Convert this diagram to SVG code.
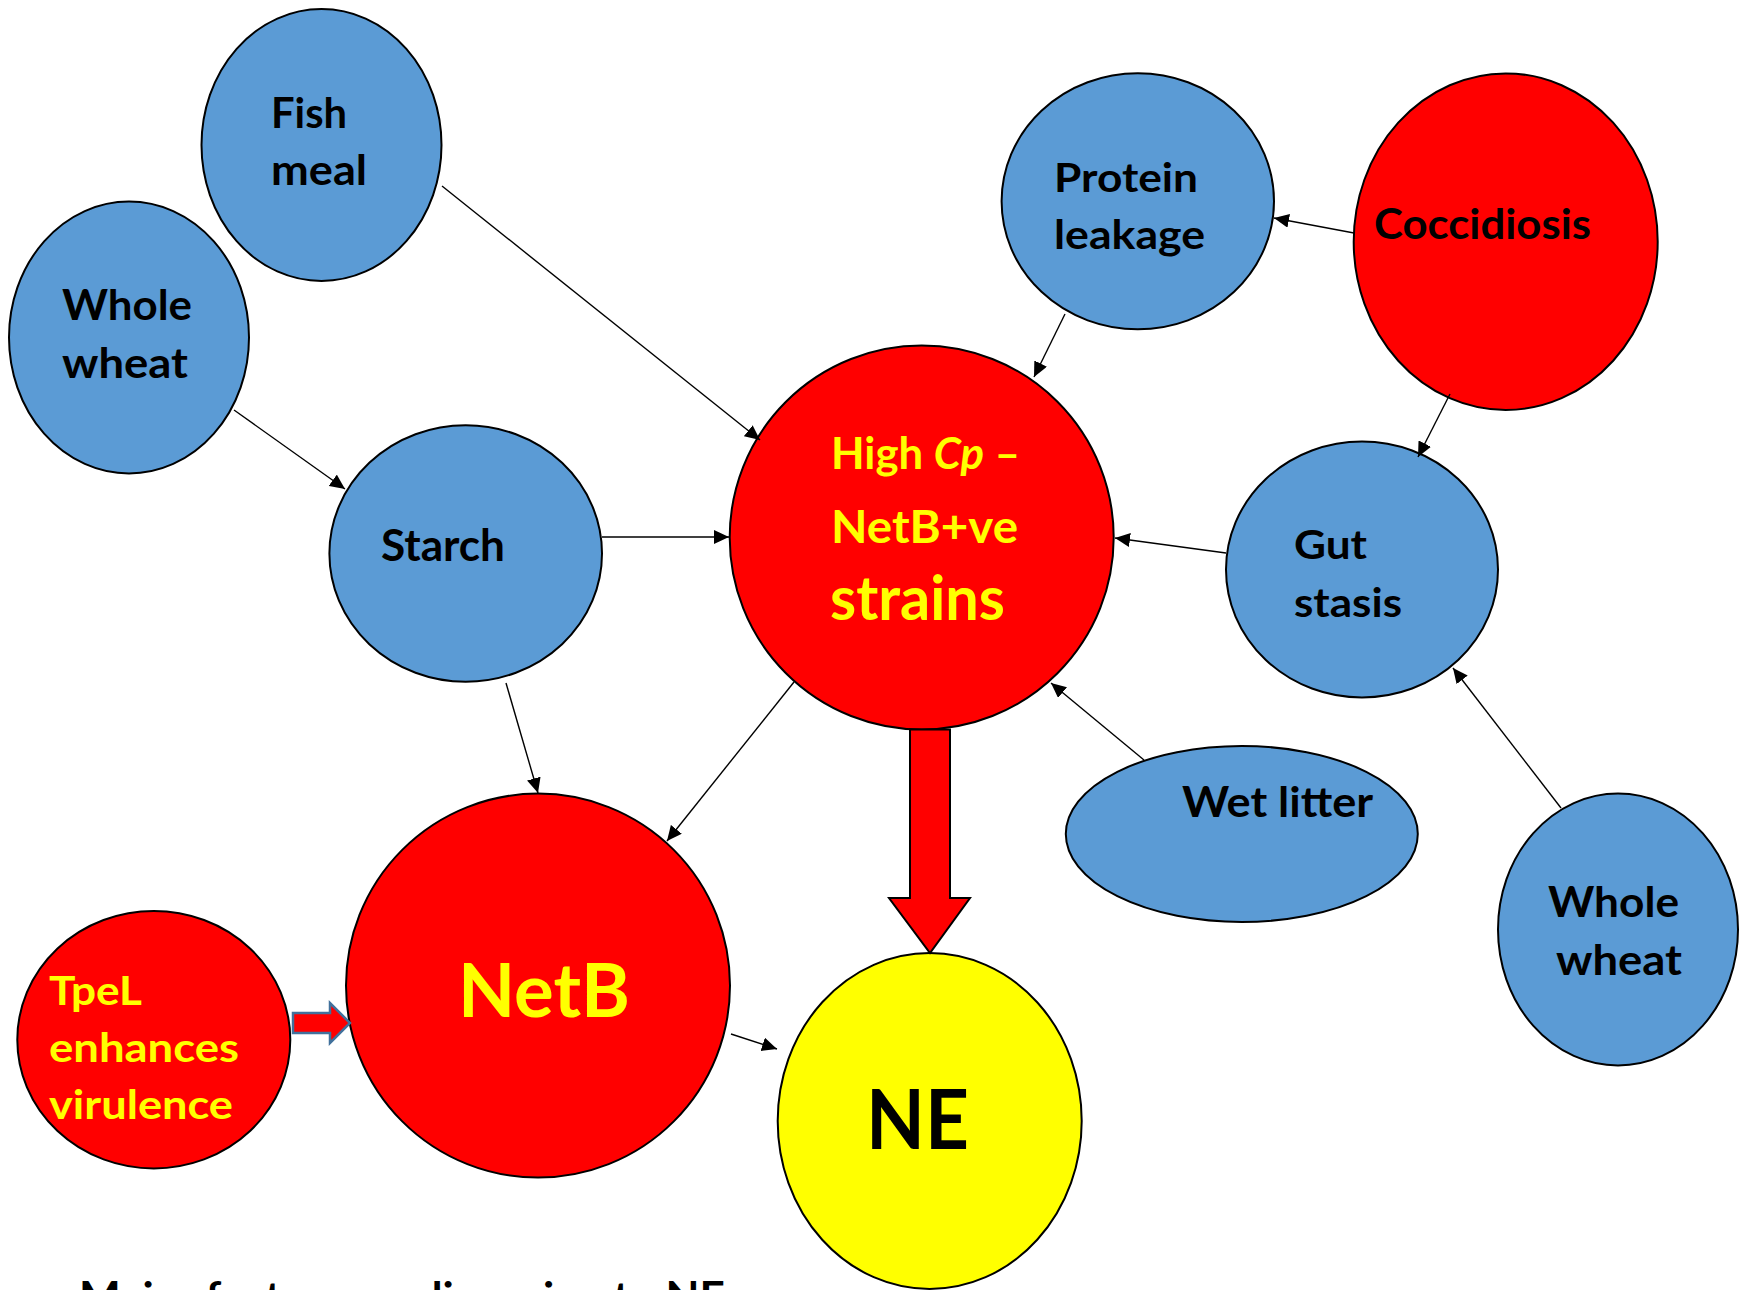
<svg xmlns="http://www.w3.org/2000/svg" width="1744" height="1290" viewBox="0 0 1744 1290">
<defs>
<style>
.blue{fill:#5B9BD5;stroke:#000;stroke-width:2}
.red{fill:#FF0000;stroke:#000;stroke-width:2}
.yel{fill:#FFFF00;stroke:#000;stroke-width:2}
.t{font-family:Lato,"Liberation Sans",sans-serif;font-weight:bold;fill:#000}
.ty{font-family:Lato,"Liberation Sans",sans-serif;font-weight:bold;fill:#FFFF00}
.c line{stroke:#000;stroke-width:1.4;marker-end:url(#ah)}
</style>
<marker id="ah" viewBox="0 0 15 14" refX="15" refY="7" markerWidth="15" markerHeight="14" markerUnits="userSpaceOnUse" orient="auto">
<path d="M0,0 L15,7 L0,14 Z" fill="#000"/>
</marker>
</defs>
<rect width="1744" height="1290" fill="#fff"/>

<g id="fish-meal">
<ellipse class="blue" cx="321.5" cy="145" rx="120" ry="136"/>
<text class="t" x="271" y="128" font-size="42" textLength="76" lengthAdjust="spacingAndGlyphs">Fish</text>
<text class="t" x="271" y="185" font-size="42" textLength="96" lengthAdjust="spacingAndGlyphs">meal</text>
</g>

<g id="whole-wheat-left">
<ellipse class="blue" cx="129" cy="337.5" rx="120" ry="136"/>
<text class="t" x="62" y="320" font-size="42" textLength="130" lengthAdjust="spacingAndGlyphs">Whole</text>
<text class="t" x="62" y="378" font-size="42" textLength="126" lengthAdjust="spacingAndGlyphs">wheat</text>
</g>

<g id="starch">
<ellipse class="blue" cx="465.7" cy="553.5" rx="136.3" ry="128.2"/>
<text class="t" x="381" y="561" font-size="43" textLength="124" lengthAdjust="spacingAndGlyphs">Starch</text>
</g>

<g id="high-cp">
<circle class="red" cx="921.7" cy="537.5" r="192"/>
<text class="ty" x="831" y="469" font-size="43" textLength="189" lengthAdjust="spacingAndGlyphs">High <tspan font-style="italic">Cp</tspan> –</text>
<text class="ty" x="831" y="543" font-size="46" textLength="187" lengthAdjust="spacingAndGlyphs">NetB+ve</text>
<text class="ty" x="830" y="620" font-size="61" textLength="175" lengthAdjust="spacingAndGlyphs">strains</text>
</g>

<g id="protein-leakage">
<ellipse class="blue" cx="1137.8" cy="201.3" rx="136.2" ry="128"/>
<text class="t" x="1054" y="192" font-size="41" textLength="144" lengthAdjust="spacingAndGlyphs">Protein</text>
<text class="t" x="1054" y="249" font-size="41" textLength="151" lengthAdjust="spacingAndGlyphs">leakage</text>
</g>

<g id="coccidiosis">
<ellipse class="red" cx="1505.7" cy="241.7" rx="152" ry="168.3"/>
<text class="t" x="1374" y="239" font-size="42" textLength="217" lengthAdjust="spacingAndGlyphs">Coccidiosis</text>
</g>

<g id="gut-stasis">
<ellipse class="blue" cx="1362" cy="569.5" rx="136" ry="128"/>
<text class="t" x="1294" y="559" font-size="41" textLength="73" lengthAdjust="spacingAndGlyphs">Gut</text>
<text class="t" x="1294" y="617" font-size="41" textLength="108" lengthAdjust="spacingAndGlyphs">stasis</text>
</g>

<g id="wet-litter">
<ellipse class="blue" cx="1241.8" cy="834" rx="176" ry="88"/>
<text class="t" x="1182" y="817" font-size="42" textLength="191" lengthAdjust="spacingAndGlyphs">Wet litter</text>
</g>

<g id="whole-wheat-right">
<ellipse class="blue" cx="1618" cy="929.5" rx="120" ry="136"/>
<text class="t" x="1548" y="917" font-size="42" textLength="131" lengthAdjust="spacingAndGlyphs">Whole</text>
<text class="t" x="1556" y="975" font-size="42" textLength="126" lengthAdjust="spacingAndGlyphs">wheat</text>
</g>

<g id="netb">
<circle class="red" cx="538" cy="985.6" r="192"/>
<text class="ty" x="458" y="1017" font-size="75" textLength="172" lengthAdjust="spacingAndGlyphs">NetB</text>
</g>

<g id="tpel">
<ellipse class="red" cx="153.8" cy="1039.7" rx="136.5" ry="128.7"/>
<text class="ty" x="49" y="1005" font-size="41" textLength="93" lengthAdjust="spacingAndGlyphs">TpeL</text>
<text class="ty" x="49" y="1062" font-size="41" textLength="190" lengthAdjust="spacingAndGlyphs">enhances</text>
<text class="ty" x="49" y="1119" font-size="41" textLength="184" lengthAdjust="spacingAndGlyphs">virulence</text>
</g>

<g id="ne">
<ellipse class="yel" cx="929.7" cy="1121" rx="152" ry="168"/>
<text class="t" x="866" y="1149" font-size="83" textLength="103" lengthAdjust="spacingAndGlyphs">NE</text>
</g>

<g id="connectors">
<g class="c">
<line x1="442" y1="186" x2="760" y2="440"/>
<line x1="234" y1="410" x2="345" y2="489"/>
<line x1="602" y1="537" x2="729" y2="537"/>
<line x1="506" y1="683" x2="538" y2="793"/>
<line x1="794" y1="682" x2="667" y2="841"/>
<line x1="731" y1="1034" x2="777" y2="1049"/>
<line x1="1065" y1="314" x2="1034" y2="377"/>
<line x1="1354" y1="233" x2="1274" y2="218"/>
<line x1="1450" y1="394" x2="1418" y2="457"/>
<line x1="1226" y1="553" x2="1115" y2="538"/>
<line x1="1144" y1="760" x2="1051" y2="683"/>
<line x1="1561" y1="808" x2="1453" y2="668"/>
</g>
<polygon points="910,729.5 950,729.5 950,898 970,898 930,953 889,898 910,898" fill="#FF0000" stroke="#000" stroke-width="2" stroke-linejoin="miter"/>
<polygon points="293,1013 330,1013 330,1003 350,1023 330,1043 330,1033 293,1033" fill="#FF0000" stroke="#41719C" stroke-width="2.5"/>
</g>

<text class="t" x="79" y="1312" font-size="42" textLength="646" lengthAdjust="spacingAndGlyphs">Major factors predisposing to NE</text>
</svg>
